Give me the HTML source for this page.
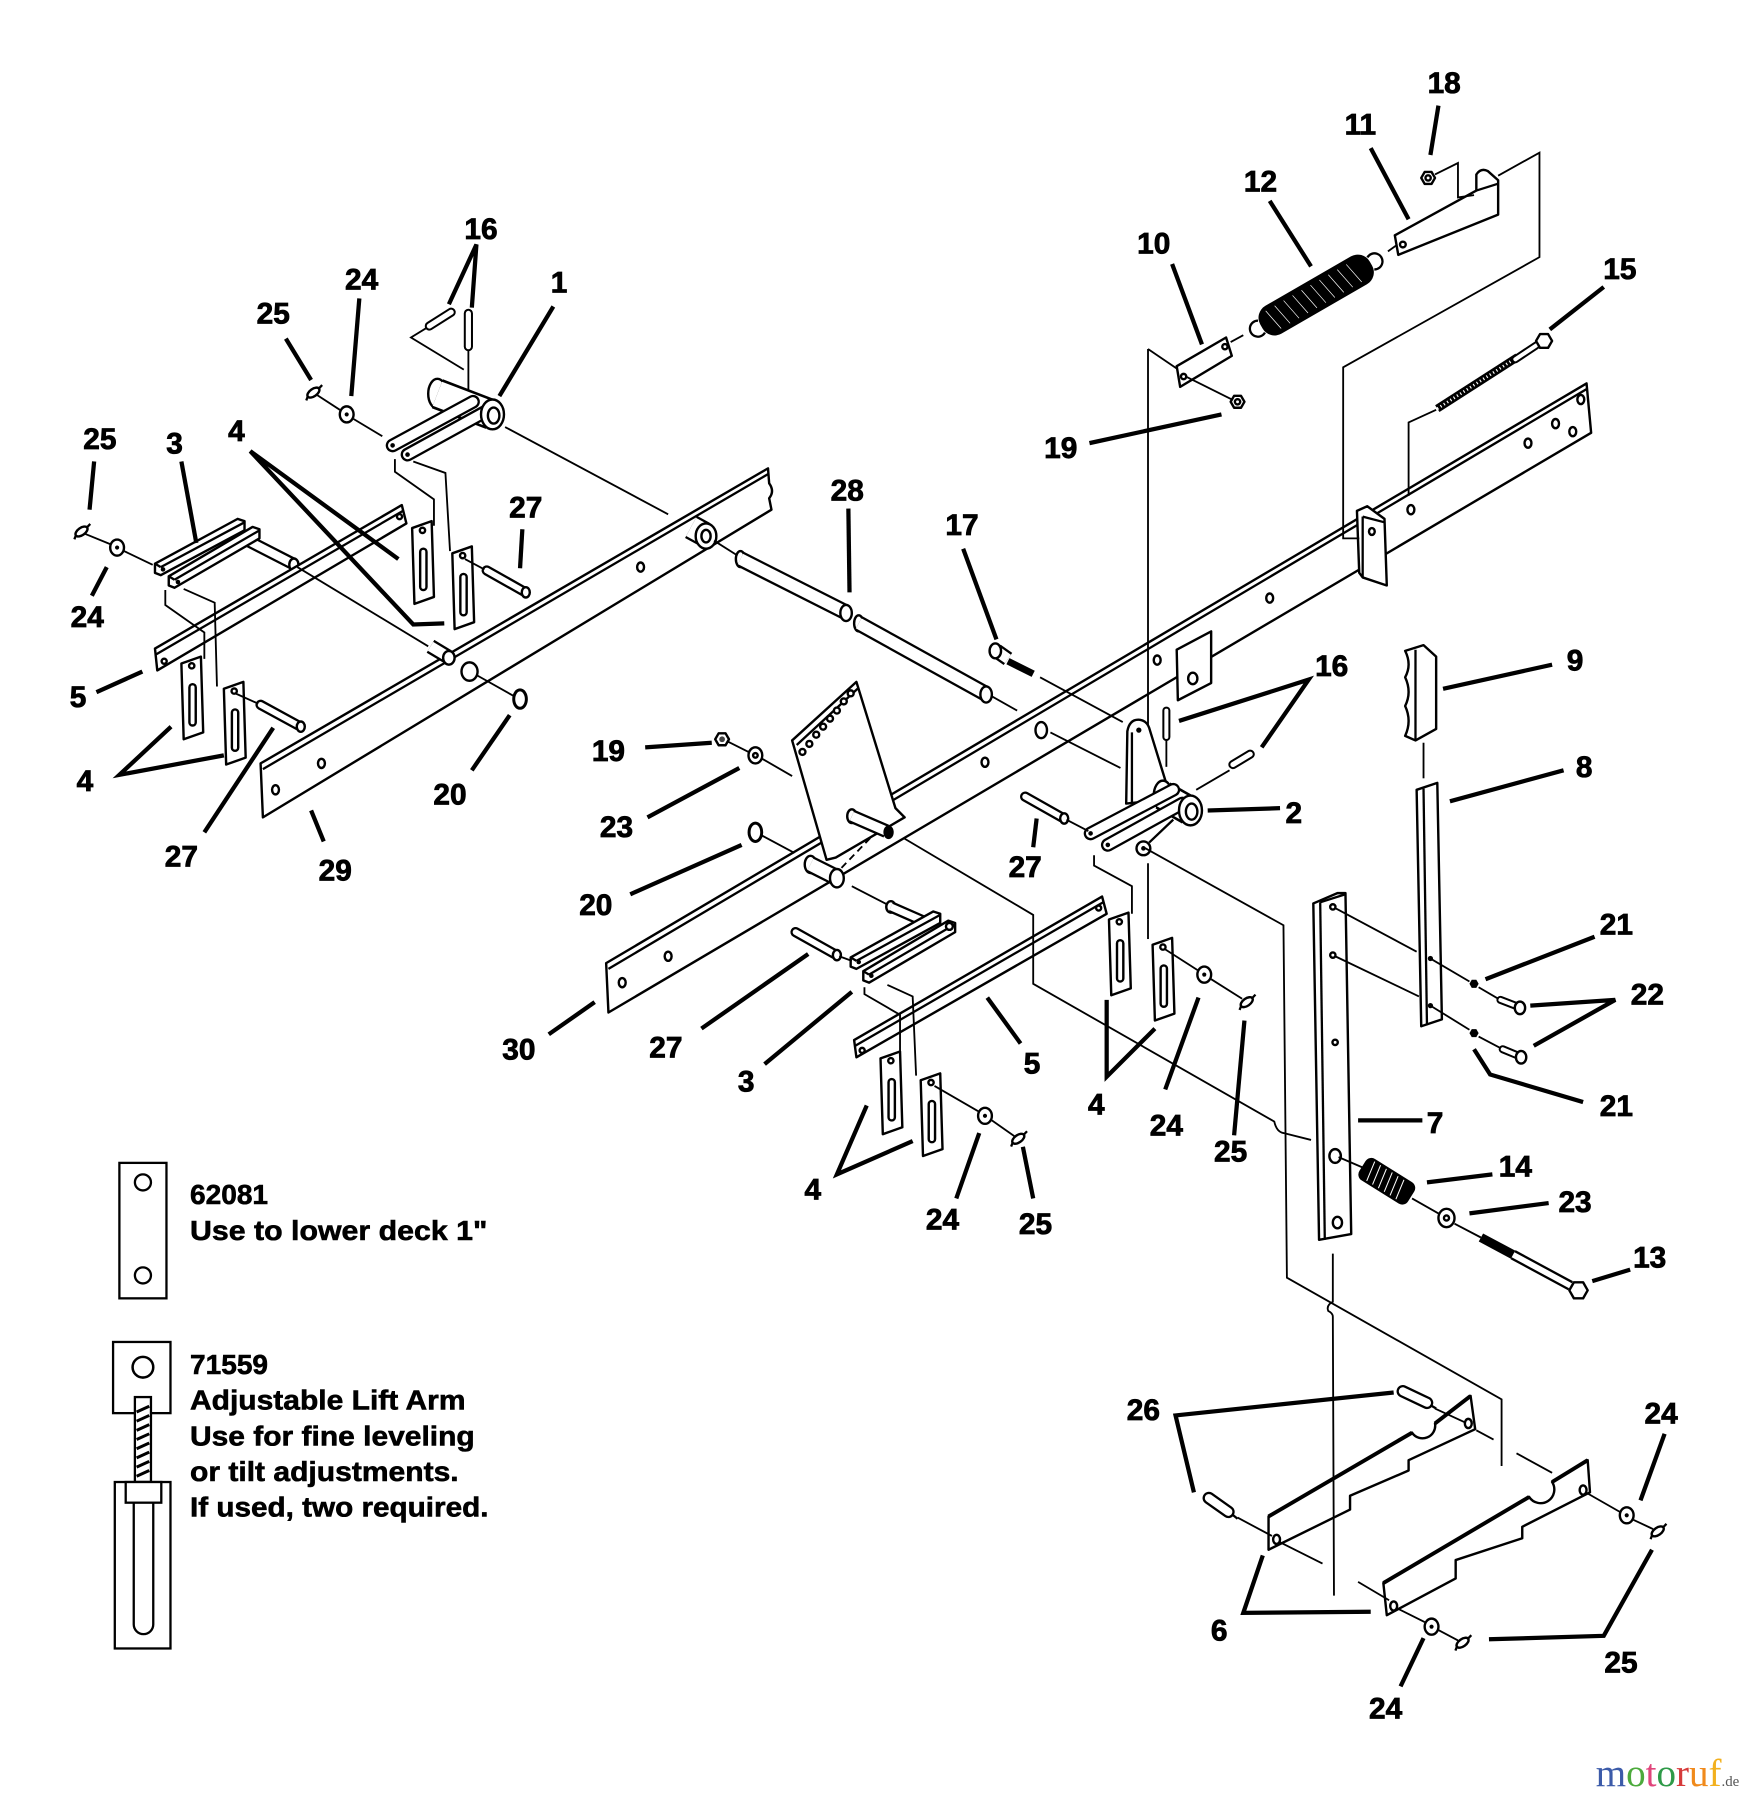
<!DOCTYPE html>
<html><head><meta charset="utf-8"><style>
html,body{margin:0;padding:0;background:#fff;}
svg{display:block}
.t{stroke:#000;stroke-width:1.6;fill:none}
.o{stroke:#000;stroke-width:2.1;fill:#fff;stroke-linejoin:round}
.n{stroke:#000;stroke-width:2;fill:none}
.L{stroke:#000;stroke-width:3.7;fill:none;stroke-linejoin:miter}
.b{stroke:#000;stroke-linecap:round;fill:none}
.w{stroke:#fff;stroke-linecap:round;fill:none}
.bc{stroke:#000;stroke-linecap:butt;fill:none}
.wc{stroke:#fff;stroke-linecap:butt;fill:none}
.k{fill:#000;stroke:none}
.lb{font-family:"Liberation Sans",Arial,sans-serif;font-weight:bold;font-size:26px;text-anchor:middle;fill:#000;stroke:#000;stroke-width:0.7}
.lg{font-family:"Liberation Sans",Arial,sans-serif;font-weight:bold;font-size:24px;fill:#000;stroke:#000;stroke-width:0.5}
</style></head><body>
<svg xmlns="http://www.w3.org/2000/svg" width="1753" height="1800" viewBox="0 0 1527 1568" preserveAspectRatio="none">
<rect x="0" y="0" width="1527" height="1568" fill="#fff"/>

<!-- BAR 29 -->
<path class="o" d="M227,665 L669,408 L670,421 Q675,428 670,434 L672,444 L229,712 Z"/>
<line class="n" x1="229" y1="670" x2="669" y2="413"/>
<ellipse class="o" cx="240" cy="688" rx="3" ry="4"/>
<ellipse class="o" cx="280" cy="665" rx="3" ry="4"/>
<ellipse class="o" cx="558" cy="494" rx="3" ry="4"/>
<ellipse class="o" cx="409" cy="585" rx="7" ry="8" stroke-width="3.2"/>
<line class="bc" x1="375" y1="563" x2="390" y2="572" stroke-width="13"/>
<line class="wc" x1="375" y1="563" x2="390" y2="572" stroke-width="9"/>
<ellipse class="o" cx="391" cy="573" rx="5" ry="6"/>
<line class="bc" x1="602" y1="459" x2="613" y2="465" stroke-width="22"/>
<line class="wc" x1="602" y1="459" x2="613" y2="465" stroke-width="18"/>
<ellipse class="o" cx="615" cy="467" rx="9" ry="11"/>
<ellipse class="o" cx="615" cy="467" rx="4" ry="5.5" stroke-width="2.4"/>

<!-- BAR 30 -->
<path class="o" d="M528,839 L1382,334 L1386,377 L530,882 Z"/>
<line class="n" x1="530" y1="844" x2="1382" y2="339"/>
<ellipse class="o" cx="542" cy="856" rx="3" ry="4"/>
<ellipse class="o" cx="582" cy="833" rx="3" ry="4"/>
<ellipse class="o" cx="858" cy="664" rx="3" ry="4"/>
<ellipse class="o" cx="907" cy="636" rx="5" ry="7"/>
<ellipse class="o" cx="1008" cy="575" rx="3" ry="4"/>
<ellipse class="o" cx="1106" cy="521" rx="3" ry="4"/>
<ellipse class="o" cx="1229" cy="444" rx="3" ry="4"/>
<ellipse class="o" cx="1331" cy="386" rx="3" ry="4"/>
<ellipse class="o" cx="1355" cy="369" rx="3" ry="4"/>
<ellipse class="o" cx="1370" cy="376" rx="3" ry="4"/>
<ellipse class="o" cx="1377" cy="348" rx="3" ry="4"/>
<path class="o" d="M1182,445 L1191,441 L1206,452 L1208,510 L1187,503 L1184,499 Z"/>
<line class="n" x1="1187" y1="450" x2="1187" y2="503"/>
<line class="n" x1="1187" y1="450" x2="1206" y2="455"/>
<ellipse class="o" cx="1195" cy="463" rx="2.5" ry="3"/>
<path class="o" d="M1025,566 L1055,550 L1055,595 L1026,610 Z"/>
<ellipse class="o" cx="1039" cy="591" rx="4" ry="5"/>

<!-- SHAFT 28 -->
<ellipse class="o" cx="645" cy="487" rx="4" ry="7"/>
<line class="bc" x1="645" y1="487" x2="736" y2="533" stroke-width="14"/>
<line class="wc" x1="645" y1="487" x2="736" y2="533" stroke-width="10"/>
<ellipse class="o" cx="737" cy="534" rx="5" ry="7"/>
<ellipse class="o" cx="748" cy="543" rx="4" ry="7"/>
<line class="bc" x1="748" y1="543" x2="858" y2="604" stroke-width="14"/>
<line class="wc" x1="748" y1="543" x2="858" y2="604" stroke-width="10"/>
<ellipse class="o" cx="859" cy="605" rx="5" ry="7"/>

<!-- BOLT 17 -->
<line x1="878" y1="576" x2="900" y2="587" stroke="#000" stroke-width="6"/>
<line class="bc" x1="868" y1="567" x2="878" y2="574" stroke-width="13"/>
<line class="wc" x1="868" y1="567" x2="878" y2="574" stroke-width="9"/>
<ellipse class="o" cx="867" cy="567" rx="5" ry="6.5"/>

<!-- PEDAL -->
<path class="o" d="M690,645 L746,594 L780,704 L788,712 L728,747 L720,749 Z"/>
<line class="n" x1="694" y1="649" x2="747" y2="600"/>
<circle class="o" cx="699" cy="655" r="2.6"/>
<circle class="o" cx="705" cy="648" r="2.6"/>
<circle class="o" cx="711" cy="640" r="2.6"/>
<circle class="o" cx="717" cy="633" r="2.6"/>
<circle class="o" cx="723" cy="626" r="2.6"/>
<circle class="o" cx="729" cy="619" r="2.6"/>
<circle class="o" cx="735" cy="611" r="2.6"/>
<circle class="o" cx="741" cy="604" r="2.6"/>
<line class="t" x1="733" y1="756" x2="760" y2="728" stroke-dasharray="6 4"/>
<ellipse class="o" cx="742" cy="711" rx="4" ry="6"/>
<line class="bc" x1="742" y1="711" x2="772" y2="724" stroke-width="12"/>
<line class="wc" x1="742" y1="711" x2="772" y2="724" stroke-width="8"/>
<ellipse cx="774" cy="725" rx="4.5" ry="6" fill="#000"/>
<ellipse class="o" cx="706" cy="753" rx="5" ry="7.5"/>
<line class="bc" x1="706" y1="753" x2="728" y2="764" stroke-width="15"/>
<line class="wc" x1="706" y1="753" x2="728" y2="764" stroke-width="11"/>
<ellipse class="o" cx="729" cy="765" rx="6" ry="8"/>

<!-- LIFT ARM 1 -->
<ellipse class="o" cx="381" cy="343" rx="8" ry="13"/>
<line class="bc" x1="381" y1="343" x2="428" y2="361" stroke-width="27"/>
<line class="wc" x1="381" y1="343" x2="428" y2="361" stroke-width="22.5"/>
<line class="b" x1="342" y1="388" x2="412" y2="350" stroke-width="12"/>
<line class="w" x1="342" y1="388" x2="412" y2="350" stroke-width="8"/>
<line class="b" x1="355" y1="396" x2="424" y2="358" stroke-width="12"/>
<line class="w" x1="355" y1="396" x2="424" y2="358" stroke-width="8"/>
<circle class="k" cx="342" cy="388" r="2"/>
<circle class="k" cx="355" cy="396" r="2"/>
<ellipse class="o" cx="429" cy="361" rx="10" ry="13"/>
<ellipse class="o" cx="430" cy="362" rx="5" ry="7"/>

<!-- LIFT ARM 2 -->
<path class="o" d="M981,700 L982,637 Q984,626 993,627 Q999,628 1001,634 L1017,686 L1010,697 Z"/>
<line class="n" x1="986" y1="700" x2="986" y2="638"/>
<circle class="k" cx="992" cy="636" r="2.3"/>
<ellipse class="o" cx="1013" cy="693" rx="8" ry="13"/>
<line class="bc" x1="1013" y1="693" x2="1036" y2="706" stroke-width="26"/>
<line class="wc" x1="1013" y1="693" x2="1036" y2="706" stroke-width="21.5"/>
<circle class="o" cx="996" cy="739" r="6"/>
<circle class="k" cx="996" cy="739" r="2"/>
<line class="n" x1="1001" y1="734" x2="1022" y2="714"/>
<line class="b" x1="950" y1="726" x2="1022" y2="688" stroke-width="12"/>
<line class="w" x1="950" y1="726" x2="1022" y2="688" stroke-width="8"/>
<line class="b" x1="965" y1="736" x2="1030" y2="700" stroke-width="12"/>
<line class="w" x1="965" y1="736" x2="1030" y2="700" stroke-width="8"/>
<circle class="k" cx="950" cy="726" r="2"/>
<circle class="k" cx="965" cy="736" r="2"/>
<ellipse class="o" cx="1037" cy="706" rx="10" ry="13"/>
<ellipse class="o" cx="1038" cy="707" rx="5" ry="7"/>

<!-- SPRING 12 / PLATE 10 / BRACKET 11 -->
<g transform="translate(1146.5,257) rotate(-30)">
<rect x="-55" y="-14" width="110" height="28" rx="12" fill="#000"/>
<g stroke="#fff" stroke-width="0.6">
<line x1="-45" y1="-10" x2="-41" y2="10"/><line x1="-36" y1="-10" x2="-32" y2="10"/>
<line x1="-27" y1="-10" x2="-23" y2="10"/><line x1="-18" y1="-10" x2="-14" y2="10"/>
<line x1="-9" y1="-10" x2="-5" y2="10"/><line x1="0" y1="-10" x2="4" y2="10"/>
<line x1="9" y1="-10" x2="13" y2="10"/><line x1="18" y1="-10" x2="22" y2="10"/>
<line x1="27" y1="-10" x2="31" y2="10"/><line x1="36" y1="-10" x2="40" y2="10"/>
</g>
<path class="n" d="M-55,6 A7,7 0 1 1 -55,-6" stroke-width="2.2"/>
<path class="n" d="M55,-6 A7,7 0 1 1 55,6" stroke-width="2.2"/>
</g>
<path class="o" d="M1025,319 L1068,294 L1073,310 L1028,337 Z"/>
<circle class="o" cx="1031" cy="328" r="2.3"/>
<circle class="o" cx="1067" cy="302" r="2.3"/>
<path class="o" d="M1215,205 L1286,166 L1286,152 Q1290,146 1296,149 L1305,157 L1305,187 L1218,222 Z"/>
<line class="n" x1="1286" y1="166" x2="1305" y2="160"/>
<circle class="o" cx="1222" cy="213" r="2.5"/>
<polygon class="o" points="1250,155 1247,160.2 1241,160.2 1238,155 1241,149.8 1247,149.8"/>
<circle class="o" cx="1244" cy="155" r="2.3"/>
<polygon class="o" points="1084,350 1081,355.2 1075,355.2 1072,350 1075,344.8 1081,344.8"/>
<circle class="o" cx="1078" cy="350" r="2.3"/>

<!-- BOLT 15 -->
<line x1="1252" y1="356" x2="1322" y2="311" stroke="#000" stroke-width="7"/>
<line x1="1252" y1="356" x2="1322" y2="311" stroke="#fff" stroke-width="2.5" stroke-dasharray="1 2.4"/>
<line class="b" x1="1320" y1="313" x2="1338" y2="301" stroke-width="7"/>
<line class="w" x1="1320" y1="313" x2="1338" y2="301" stroke-width="3.5"/>
<polygon class="o" points="1352,297 1348.5,303 1341.5,303 1338,297 1341.5,291 1348.5,291"/>

<!-- PARTS 9, 8, 7 -->
<path class="o" d="M1224,567 L1240,562 L1251,572 L1251,635 L1233,645 L1224,641 Q1230,628 1224,615 Q1230,603 1224,590 Q1230,579 1224,567 Z"/>
<line class="n" x1="1233" y1="566" x2="1233" y2="645"/>
<path class="o" d="M1234,688 L1252,682 L1256,888 L1238,894 Z"/>
<line class="n" x1="1240" y1="687" x2="1243" y2="893"/>
<circle class="k" cx="1246" cy="835" r="2.3"/>
<circle class="k" cx="1246" cy="876" r="2.3"/>
<path class="o" d="M1144,787 L1165,778 L1172,778 L1177,1075 L1149,1080 Z"/>
<line class="n" x1="1150" y1="786" x2="1154" y2="1080"/>
<line class="n" x1="1150" y1="786" x2="1172" y2="779"/>
<circle class="o" cx="1161" cy="790" r="2.3"/>
<circle class="o" cx="1161" cy="832" r="2.3"/>
<circle class="o" cx="1163" cy="908" r="2.3"/>
<ellipse class="o" cx="1163" cy="1007" rx="5" ry="6"/>
<ellipse class="o" cx="1165" cy="1065" rx="4" ry="5"/>

<polygon class="k" points="1288,857 1286,860.5 1282,860.5 1280,857 1282,853.5 1286,853.5"/>
<polygon class="k" points="1288,900 1286,903.5 1282,903.5 1280,900 1282,896.5 1286,896.5"/>
<line class="b" x1="1307" y1="871" x2="1320" y2="876" stroke-width="7"/>
<line class="w" x1="1307" y1="871" x2="1320" y2="876" stroke-width="3.5"/>
<ellipse class="o" cx="1324" cy="878" rx="4.5" ry="5.5"/>
<line class="b" x1="1309" y1="914" x2="1321" y2="919" stroke-width="7"/>
<line class="w" x1="1309" y1="914" x2="1321" y2="919" stroke-width="3.5"/>
<ellipse class="o" cx="1325" cy="921" rx="4.5" ry="5.5"/>

<!-- SPRING 14, WASHER 23, BOLT 13 -->
<g transform="translate(1208,1029) rotate(32)">
<rect x="-25" y="-11" width="50" height="22" rx="6" fill="#000"/>
<g stroke="#fff" stroke-width="0.9">
<line x1="-18" y1="-9" x2="-15" y2="9"/><line x1="-12" y1="-9" x2="-9" y2="9"/>
<line x1="-6" y1="-9" x2="-3" y2="9"/><line x1="0" y1="-9" x2="3" y2="9"/>
<line x1="6" y1="-9" x2="9" y2="9"/><line x1="12" y1="-9" x2="15" y2="9"/>
</g>
</g>
<ellipse class="o" cx="1260" cy="1061" rx="7" ry="8"/>
<circle class="o" cx="1260" cy="1061" r="2.2"/>
<line x1="1290" y1="1078" x2="1318" y2="1093" stroke="#000" stroke-width="8"/>
<line class="bc" x1="1318" y1="1093" x2="1368" y2="1120" stroke-width="9"/>
<line class="wc" x1="1318" y1="1093" x2="1368" y2="1120" stroke-width="5"/>
<polygon class="o" points="1383,1124 1379,1131 1371,1131 1367,1124 1371,1117 1379,1117"/>

<!-- LEFT GROUP: PART 3, 5 -->
<line class="bc" x1="214" y1="470" x2="255" y2="491" stroke-width="11"/>
<line class="wc" x1="214" y1="470" x2="255" y2="491" stroke-width="7"/>
<ellipse class="o" cx="256" cy="492" rx="4" ry="5.5"/>
<path class="o" d="M135,491 L207,452 L213,454 L213,462 L140,501 L135,499 Z"/>
<line class="n" x1="135" y1="491" x2="140" y2="494"/><line class="n" x1="140" y1="494" x2="213" y2="455"/>
<path class="o" d="M147,502 L220,459 L226,461 L226,469 L152,512 L147,510 Z"/>
<line class="n" x1="147" y1="502" x2="152" y2="505"/><line class="n" x1="152" y1="505" x2="226" y2="462"/>
<circle class="k" cx="142" cy="496" r="2"/>
<circle class="k" cx="155" cy="507" r="2"/>
<path class="o" d="M135,565 L350,440 L354,456 L137,584 Z"/>
<line class="n" x1="136" y1="570" x2="351" y2="445"/>
<circle class="o" cx="143" cy="576" r="2.2"/>
<circle class="o" cx="348" cy="450" r="2.2"/>

<!-- SLOTTED PLATES (PART 4) -->
<g>
<polygon class="o" points="359,460 376,454 378,520 361,526"/><circle class="o" cx="368" cy="462" r="2.3"/><rect class="o" x="366" y="478" width="5.5" height="36" rx="2.75"/>
<polygon class="o" points="394,482 411,476 413,542 396,548"/><circle class="o" cx="403" cy="484" r="2.3"/><rect class="o" x="401" y="500" width="5.5" height="36" rx="2.75"/>
<polygon class="o" points="158,578 175,572 177,638 160,644"/><circle class="o" cx="167" cy="580" r="2.3"/><rect class="o" x="165" y="596" width="5.5" height="36" rx="2.75"/>
<polygon class="o" points="195,600 212,594 214,660 197,666"/><circle class="o" cx="204" cy="602" r="2.3"/><rect class="o" x="202" y="618" width="5.5" height="36" rx="2.75"/>
<polygon class="o" points="966,801 983,795 985,861 968,867"/><circle class="o" cx="975" cy="803" r="2.3"/><rect class="o" x="973" y="819" width="5.5" height="36" rx="2.75"/>
<polygon class="o" points="1004,823 1021,817 1023,883 1006,889"/><circle class="o" cx="1013" cy="825" r="2.3"/><rect class="o" x="1011" y="841" width="5.5" height="36" rx="2.75"/>
<polygon class="o" points="767,922 784,916 786,982 769,988"/><circle class="o" cx="776" cy="924" r="2.3"/><rect class="o" x="774" y="940" width="5.5" height="36" rx="2.75"/>
<polygon class="o" points="802,941 819,935 821,1001 804,1007"/><circle class="o" cx="811" cy="943" r="2.3"/><rect class="o" x="809" y="959" width="5.5" height="36" rx="2.75"/>
</g>

<!-- CENTER PART 3 & 5 -->
<ellipse class="o" cx="776" cy="790" rx="4" ry="5"/>
<line class="bc" x1="776" y1="790" x2="808" y2="804" stroke-width="10"/>
<line class="wc" x1="776" y1="790" x2="808" y2="804" stroke-width="6"/>
<path class="o" d="M741,834 L813,794 L819,796 L819,804 L746,844 L741,842 Z"/>
<line class="n" x1="741" y1="834" x2="746" y2="837"/><line class="n" x1="746" y1="837" x2="819" y2="797"/>
<path class="o" d="M752,846 L826,802 L832,804 L832,812 L757,856 L752,854 Z"/>
<line class="n" x1="752" y1="846" x2="757" y2="849"/><line class="n" x1="757" y1="849" x2="832" y2="805"/>
<circle class="k" cx="748" cy="838" r="2"/>
<circle class="k" cx="759" cy="850" r="2"/>
<circle class="o" cx="827" cy="807" r="3"/>
<path class="o" d="M744,906 L960,781 L964,796 L746,921 Z"/>
<line class="n" x1="745" y1="911" x2="961" y2="786"/>
<circle class="o" cx="751" cy="915" r="2.2"/>
<circle class="o" cx="957" cy="791" r="2.2"/>

<!-- PINS 27 / 16 / 26 -->
<line class="b" x1="227" y1="614" x2="260" y2="632" stroke-width="9"/><line class="w" x1="227" y1="614" x2="260" y2="632" stroke-width="5"/><ellipse class="o" cx="262" cy="633" rx="3.5" ry="4.5"/>
<line class="b" x1="424" y1="497" x2="456" y2="515" stroke-width="9"/><line class="w" x1="424" y1="497" x2="456" y2="515" stroke-width="5"/><ellipse class="o" cx="458" cy="516" rx="3.5" ry="4.5"/>
<line class="b" x1="693" y1="812" x2="727" y2="831" stroke-width="9"/><line class="w" x1="693" y1="812" x2="727" y2="831" stroke-width="5"/><ellipse class="o" cx="729" cy="832" rx="3.5" ry="4.5"/>
<line class="b" x1="893" y1="694" x2="925" y2="712" stroke-width="9"/><line class="w" x1="893" y1="694" x2="925" y2="712" stroke-width="5"/><ellipse class="o" cx="927" cy="713" rx="3.5" ry="4.5"/>
<line class="b" x1="374" y1="284" x2="393" y2="272" stroke-width="8"/><line class="w" x1="374" y1="284" x2="393" y2="272" stroke-width="4.5"/>
<line class="b" x1="408" y1="273" x2="408" y2="302" stroke-width="8"/><line class="w" x1="408" y1="273" x2="408" y2="302" stroke-width="4.5"/>
<line class="b" x1="1016" y1="619" x2="1016" y2="642" stroke-width="7"/><line class="w" x1="1016" y1="619" x2="1016" y2="642" stroke-width="3.5"/>
<line class="b" x1="1074" y1="666" x2="1089" y2="657" stroke-width="8"/><line class="w" x1="1074" y1="666" x2="1089" y2="657" stroke-width="4.5"/>
<line class="b" x1="1222" y1="1212" x2="1243" y2="1222" stroke-width="11"/><line class="w" x1="1222" y1="1212" x2="1243" y2="1222" stroke-width="7"/>
<line class="n" x1="1246" y1="1224" x2="1251" y2="1227"/>
<line class="b" x1="1053" y1="1305" x2="1070" y2="1317" stroke-width="11"/><line class="w" x1="1053" y1="1305" x2="1070" y2="1317" stroke-width="7"/>
<line class="n" x1="1073" y1="1319" x2="1078" y2="1323"/>

<!-- PART 6 PLATES -->
<path class="o" d="M1105,1350 L1105,1321 L1230,1248 A11,11 0 0 0 1250,1240 L1281,1216 L1285,1245 L1227,1272 L1227,1281 L1176,1303 L1176,1315 Z"/>
<line x1="1105" y1="1321" x2="1230" y2="1248" stroke="#000" stroke-width="3.4"/>
<line x1="1250" y1="1240" x2="1281" y2="1216" stroke="#000" stroke-width="3.4"/>
<ellipse class="o" cx="1112" cy="1341" rx="3" ry="4"/>
<ellipse class="o" cx="1279" cy="1240" rx="3" ry="4"/>
<path class="o" d="M1208,1407 L1205,1379 L1332,1304 A11,11 0 0 0 1352,1291 L1383,1272 L1385,1300 L1326,1330 L1326,1340 L1268,1359 L1268,1375 Z"/>
<line x1="1205" y1="1379" x2="1332" y2="1304" stroke="#000" stroke-width="3.4"/>
<line x1="1352" y1="1291" x2="1383" y2="1272" stroke="#000" stroke-width="3.4"/>
<ellipse class="o" cx="1214" cy="1399" rx="3" ry="4"/>
<ellipse class="o" cx="1379" cy="1298" rx="3" ry="4"/>

<!-- WASHERS / NUTS -->
<g>
<ellipse class="o" cx="302" cy="361" rx="6" ry="7"/><circle class="k" cx="302" cy="361" r="1.8"/>
<ellipse class="o" cx="102" cy="477" rx="6" ry="7"/><circle class="k" cx="102" cy="477" r="1.8"/>
<ellipse class="o" cx="858" cy="972" rx="6" ry="7"/><circle class="k" cx="858" cy="972" r="1.8"/>
<ellipse class="o" cx="1049" cy="849" rx="6" ry="7"/><circle class="k" cx="1049" cy="849" r="1.8"/>
<ellipse class="o" cx="1417" cy="1320" rx="6" ry="7"/><circle class="k" cx="1417" cy="1320" r="1.8"/>
<ellipse class="o" cx="1247" cy="1417" rx="6" ry="7"/><circle class="k" cx="1247" cy="1417" r="1.8"/>
<ellipse class="o" cx="658" cy="658" rx="6" ry="7"/><circle class="o" cx="658" cy="658" r="2"/>
<ellipse cx="453" cy="609" rx="5.5" ry="8" fill="none" stroke="#000" stroke-width="2.6"/>
<ellipse cx="658" cy="725" rx="5.5" ry="8" fill="none" stroke="#000" stroke-width="2.6"/>
<polygon class="o" points="635,644 632,649.2 626,649.2 623,644 626,638.8 632,638.8"/><circle cx="629" cy="644" r="2.5" fill="#444"/>
</g>
<!-- CLIPS 25 -->
<g>
<g transform="translate(273,342) rotate(-35)"><ellipse class="o" rx="6" ry="3.2"/><line class="n" x1="5" y1="0" x2="10" y2="-1"/><line class="n" x1="-6" y1="0" x2="-9" y2="2"/></g>
<g transform="translate(71,463) rotate(-35)"><ellipse class="o" rx="6" ry="3.2"/><line class="n" x1="5" y1="0" x2="10" y2="-1"/><line class="n" x1="-6" y1="0" x2="-9" y2="2"/></g>
<g transform="translate(887,992) rotate(-35)"><ellipse class="o" rx="6" ry="3.2"/><line class="n" x1="5" y1="0" x2="10" y2="-1"/><line class="n" x1="-6" y1="0" x2="-9" y2="2"/></g>
<g transform="translate(1086,873) rotate(-35)"><ellipse class="o" rx="6" ry="3.2"/><line class="n" x1="5" y1="0" x2="10" y2="-1"/><line class="n" x1="-6" y1="0" x2="-9" y2="2"/></g>
<g transform="translate(1444,1334) rotate(-35)"><ellipse class="o" rx="6" ry="3.2"/><line class="n" x1="5" y1="0" x2="10" y2="-1"/><line class="n" x1="-6" y1="0" x2="-9" y2="2"/></g>
<g transform="translate(1274,1431) rotate(-35)"><ellipse class="o" rx="6" ry="3.2"/><line class="n" x1="5" y1="0" x2="10" y2="-1"/><line class="n" x1="-6" y1="0" x2="-9" y2="2"/></g>
</g>

<!-- THIN CONNECTOR LINES -->
<g class="t">
<line x1="440" y1="372" x2="582" y2="448"/>
<line x1="622" y1="471" x2="641" y2="483"/>
<line x1="863" y1="606" x2="886" y2="619"/>
<polyline points="371,286 358,294 404,322"/>
<line x1="408" y1="305" x2="408" y2="340"/>
<line x1="276" y1="344" x2="296" y2="357"/>
<line x1="308" y1="365" x2="333" y2="380"/>
<polyline points="344,400 344,411 378,435 378,458"/>
<polyline points="360,402 388,412 392,480"/>
<polyline points="144,514 144,527 178,551 178,574"/>
<polyline points="160,513 187,525 189,598"/>
<line x1="74" y1="465" x2="96" y2="474"/>
<line x1="108" y1="480" x2="133" y2="492"/>
<line x1="259" y1="494" x2="373" y2="563"/>
<line x1="415" y1="588" x2="447" y2="606"/>
<line x1="205" y1="604" x2="225" y2="613"/>
<line x1="405" y1="487" x2="422" y2="496"/>
<line x1="634" y1="646" x2="652" y2="655"/>
<line x1="664" y1="661" x2="690" y2="676"/>
<line x1="664" y1="728" x2="692" y2="743"/>
<path d="M787,730 L900,797 L900,857 L1110,977 Q1112,986 1118,987 L1142,993"/>
<polyline points="996,738 1118,806 1121,1113 1308,1219 1308,1277"/>
<path d="M1161,1092 L1161,1134 Q1155,1137 1157,1142 Q1161,1144 1161,1147 L1162,1390"/>
<line x1="906" y1="590" x2="978" y2="629"/>
<line x1="915" y1="638" x2="976" y2="669"/>
<line x1="929" y1="714" x2="948" y2="724"/>
<line x1="1071" y1="671" x2="1042" y2="688"/>
<line x1="1016" y1="645" x2="1016" y2="668"/>
<polyline points="953,745 953,754 986,772 986,796"/>
<polyline points="1000,752 1000,818"/>
<polyline points="753,860 753,866 784,884 784,917"/>
<polyline points="773,858 795,868 798,937"/>
<line x1="731" y1="833" x2="742" y2="837"/>
<line x1="742" y1="772" x2="773" y2="788"/>
<line x1="1015" y1="827" x2="1043" y2="845"/>
<line x1="1055" y1="853" x2="1082" y2="870"/>
<line x1="814" y1="946" x2="852" y2="968"/>
<line x1="864" y1="976" x2="884" y2="990"/>
<line x1="1163" y1="791" x2="1234" y2="829"/>
<line x1="1163" y1="833" x2="1236" y2="868"/>
<line x1="1246" y1="835" x2="1280" y2="855"/>
<line x1="1288" y1="860" x2="1305" y2="870"/>
<line x1="1246" y1="876" x2="1280" y2="897"/>
<line x1="1288" y1="903" x2="1307" y2="913"/>
<line x1="1240" y1="647" x2="1240" y2="678"/>
<line x1="1166" y1="1008" x2="1187" y2="1017"/>
<line x1="1230" y1="1044" x2="1253" y2="1057"/>
<line x1="1267" y1="1066" x2="1290" y2="1078"/>
<line x1="1000" y1="304" x2="1000" y2="632"/>
<line x1="1000" y1="304" x2="1025" y2="321"/>
<line x1="1033" y1="328" x2="1073" y2="348"/>
<line x1="1072" y1="298" x2="1083" y2="292"/>
<line x1="1209" y1="219" x2="1216" y2="214"/>
<polyline points="1250,152 1270,142 1270,172 1284,170"/>
<polyline points="1305,153 1341,133 1341,224 1170,320 1170,469 1184,469"/>
<polyline points="1251,357 1227,368 1227,432"/>
<line x1="1250" y1="1227" x2="1276" y2="1239"/>
<line x1="1078" y1="1322" x2="1108" y2="1338"/>
<line x1="1286" y1="1246" x2="1301" y2="1254"/>
<line x1="1321" y1="1266" x2="1352" y2="1283"/>
<line x1="1114" y1="1343" x2="1152" y2="1362"/>
<line x1="1183" y1="1378" x2="1210" y2="1394"/>
<line x1="1383" y1="1301" x2="1411" y2="1317"/>
<line x1="1423" y1="1324" x2="1440" y2="1332"/>
<line x1="1217" y1="1401" x2="1241" y2="1413"/>
<line x1="1253" y1="1420" x2="1270" y2="1429"/>
</g>

<!-- LEADER LINES -->
<g class="L">
<line x1="1253" y1="92" x2="1246" y2="135"/>
<line x1="1194" y1="129" x2="1227" y2="191"/>
<line x1="1106" y1="175" x2="1142" y2="232"/>
<line x1="1021" y1="230" x2="1047" y2="300"/>
<line x1="1397" y1="250" x2="1350" y2="287"/>
<line x1="949" y1="386" x2="1064" y2="361"/>
<polyline points="391,265 415,213 411,268"/>
<line x1="313" y1="260" x2="306" y2="345"/>
<line x1="249" y1="295" x2="271" y2="331"/>
<line x1="482" y1="267" x2="435" y2="345"/>
<line x1="82" y1="402" x2="78" y2="444"/>
<line x1="158" y1="402" x2="171" y2="473"/>
<polyline points="347,487 218,393 360,544 387,543"/>
<line x1="455" y1="461" x2="453" y2="495"/>
<line x1="80" y1="519" x2="93" y2="494"/>
<line x1="84" y1="603" x2="124" y2="585"/>
<polyline points="149,633 104,675 195,658"/>
<line x1="178" y1="725" x2="238" y2="634"/>
<line x1="282" y1="733" x2="271" y2="706"/>
<line x1="411" y1="671" x2="444" y2="623"/>
<line x1="739" y1="443" x2="740" y2="516"/>
<line x1="839" y1="478" x2="868" y2="557"/>
<line x1="562" y1="651" x2="620" y2="647"/>
<line x1="564" y1="712" x2="644" y2="669"/>
<line x1="549" y1="779" x2="646" y2="736"/>
<polyline points="1027,628 1140,592 1099,651"/>
<line x1="1257" y1="600" x2="1352" y2="579"/>
<line x1="1263" y1="698" x2="1362" y2="671"/>
<line x1="1052" y1="706" x2="1115" y2="704"/>
<line x1="903" y1="713" x2="900" y2="738"/>
<line x1="1294" y1="853" x2="1389" y2="816"/>
<polyline points="1333,876 1407,871 1336,911"/>
<polyline points="1284,914 1298,936 1379,960"/>
<line x1="478" y1="901" x2="518" y2="873"/>
<line x1="611" y1="896" x2="704" y2="831"/>
<line x1="666" y1="927" x2="742" y2="864"/>
<line x1="860" y1="869" x2="889" y2="909"/>
<polyline points="964,871 964,938 1006,896"/>
<line x1="1015" y1="949" x2="1044" y2="869"/>
<line x1="1075" y1="989" x2="1084" y2="889"/>
<line x1="1183" y1="976" x2="1239" y2="976"/>
<line x1="1243" y1="1030" x2="1300" y2="1023"/>
<line x1="1280" y1="1057" x2="1349" y2="1048"/>
<line x1="1387" y1="1116" x2="1420" y2="1106"/>
<polyline points="755,963 729,1023 795,994"/>
<line x1="833" y1="1044" x2="853" y2="987"/>
<line x1="900" y1="1044" x2="891" y2="999"/>
<polyline points="1214,1213 1024,1233 1040,1300"/>
<polyline points="1100,1355 1083,1405 1194,1404"/>
<polyline points="1297,1428 1397,1425 1439,1350"/>
<line x1="1450" y1="1249" x2="1429" y2="1307"/>
<line x1="1240" y1="1427" x2="1220" y2="1469"/>
</g>

<!-- LABELS -->
<g class="lb">
<text x="1258" y="81">18</text>
<text x="1185" y="117">11</text>
<text x="1098" y="167">12</text>
<text x="1005" y="221">10</text>
<text x="1411" y="243">15</text>
<text x="924" y="399">19</text>
<text x="419" y="208">16</text>
<text x="315" y="252">24</text>
<text x="238" y="282">25</text>
<text x="487" y="255">1</text>
<text x="87" y="391">25</text>
<text x="152" y="395">3</text>
<text x="206" y="384">4</text>
<text x="458" y="451">27</text>
<text x="738" y="436">28</text>
<text x="838" y="466">17</text>
<text x="76" y="546">24</text>
<text x="68" y="616">5</text>
<text x="74" y="689">4</text>
<text x="158" y="755">27</text>
<text x="292" y="767">29</text>
<text x="392" y="701">20</text>
<text x="530" y="663">19</text>
<text x="537" y="729">23</text>
<text x="519" y="797">20</text>
<text x="1160" y="589">16</text>
<text x="1372" y="584">9</text>
<text x="1380" y="677">8</text>
<text x="1127" y="717">2</text>
<text x="893" y="764">27</text>
<text x="1408" y="814">21</text>
<text x="1435" y="875">22</text>
<text x="1408" y="972">21</text>
<text x="452" y="923">30</text>
<text x="580" y="921">27</text>
<text x="650" y="951">3</text>
<text x="899" y="935">5</text>
<text x="955" y="971">4</text>
<text x="1016" y="989">24</text>
<text x="1072" y="1012">25</text>
<text x="1250" y="987">7</text>
<text x="1320" y="1025">14</text>
<text x="1372" y="1056">23</text>
<text x="1437" y="1104">13</text>
<text x="708" y="1045">4</text>
<text x="821" y="1071">24</text>
<text x="902" y="1075">25</text>
<text x="996" y="1237">26</text>
<text x="1447" y="1240">24</text>
<text x="1062" y="1429">6</text>
<text x="1412" y="1457">25</text>
<text x="1207" y="1497">24</text>
</g>

<!-- LEGEND -->
<rect x="104" y="1013" width="41" height="118" fill="#fff" stroke="#000" stroke-width="2"/>
<circle cx="124.5" cy="1030" r="7" fill="#fff" stroke="#000" stroke-width="2"/>
<circle cx="124.5" cy="1111" r="7" fill="#fff" stroke="#000" stroke-width="2"/>
<rect x="98.5" y="1169" width="50" height="62" fill="#fff" stroke="#000" stroke-width="2"/>
<circle cx="124.5" cy="1191" r="9" fill="#fff" stroke="#000" stroke-width="2.2"/>
<rect x="117.5" y="1217" width="14" height="74" fill="#fff" stroke="#000" stroke-width="2"/>
<g stroke="#000" stroke-width="2.6">
<line x1="119" y1="1230" x2="130" y2="1225"/><line x1="119" y1="1238" x2="130" y2="1233"/>
<line x1="119" y1="1246" x2="130" y2="1241"/><line x1="119" y1="1254" x2="130" y2="1249"/>
<line x1="119" y1="1262" x2="130" y2="1257"/><line x1="119" y1="1270" x2="130" y2="1265"/>
<line x1="119" y1="1278" x2="130" y2="1273"/><line x1="119" y1="1286" x2="130" y2="1281"/>
</g>
<rect x="100" y="1291" width="48.5" height="145" fill="#fff" stroke="#000" stroke-width="2"/>
<rect x="109.5" y="1291" width="31" height="18" fill="#fff" stroke="#000" stroke-width="2"/>
<path d="M116.5,1309 L116.5,1415 A8,8 0 0 0 133.5,1415 L133.5,1309" fill="none" stroke="#000" stroke-width="2"/>
<g class="lg">
<text x="165.5" y="1049" textLength="68" lengthAdjust="spacingAndGlyphs">62081</text>
<text x="165.5" y="1080" textLength="259" lengthAdjust="spacingAndGlyphs">Use to lower deck 1"</text>
<text x="165.5" y="1197" textLength="68" lengthAdjust="spacingAndGlyphs">71559</text>
<text x="165.5" y="1228" textLength="240" lengthAdjust="spacingAndGlyphs">Adjustable Lift Arm</text>
<text x="165.5" y="1259" textLength="248" lengthAdjust="spacingAndGlyphs">Use for fine leveling</text>
<text x="165.5" y="1290" textLength="234" lengthAdjust="spacingAndGlyphs">or tilt adjustments.</text>
<text x="165.5" y="1321" textLength="260" lengthAdjust="spacingAndGlyphs">If used, two required.</text>
</g>

<!-- LOGO -->
<text x="1390" y="1556" font-family="'Liberation Serif',serif" font-size="34"><tspan fill="#3c5ba9">m</tspan><tspan fill="#4caa3c">o</tspan><tspan fill="#e0457b">t</tspan><tspan fill="#2e9a48">o</tspan><tspan fill="#d63a3a">r</tspan><tspan fill="#f08a1c">u</tspan><tspan fill="#f2b01e">f</tspan><tspan fill="#555" font-size="13">.de</tspan></text>
</svg>
</body></html>
